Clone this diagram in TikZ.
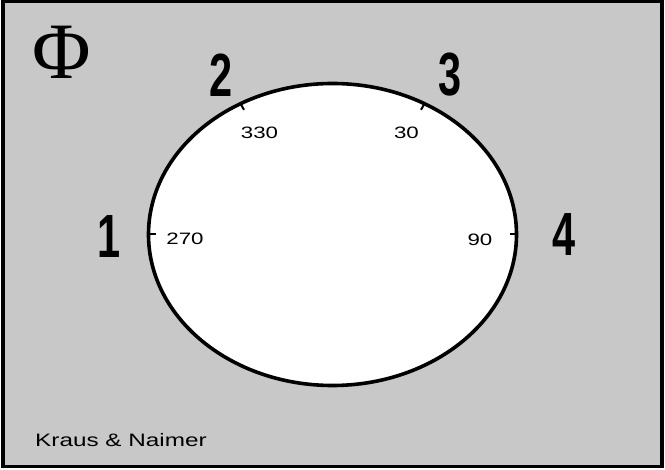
\documentclass[tikz,border=0pt]{standalone}
\usepackage{fontspec}
\setmainfont{Liberation Sans}
\newfontfamily\phifont{Liberation Serif}
\definecolor{panelgray}{HTML}{C8C8C8}
\tikzset{
  bigdigit/.style={inner sep=0pt, font=\fontsize{61}{61}\selectfont\bfseries},
  anglabel/.style={inner sep=0pt, font=\fontsize{16.5}{16.5}\selectfont},
  ticktick/.style={line width=2pt},
}
\newcommand{\condensed}[1]{\scalebox{0.68}[1]{#1}}
\newcommand{\extended}[1]{\scalebox{1.35}[1]{#1}}
\begin{document}
\begin{tikzpicture}[x=1pt,y=-1pt]
\useasboundingbox (0,0) rectangle (665,470);
\draw[line width=3.5pt, fill=panelgray] (3,1.75) rectangle (662,466.5);
\draw[line width=3.6pt, fill=white] (332.5,234.5) ellipse [x radius=184, y radius=151];
% ticks
\foreach \n/\a in {a/180, b/0, c/240, d/300}{
  \coordinate (\n o) at ({332.5+185*cos(\a)},{234.5+152*sin(\a)});
  \coordinate (\n i) at ({332.5+177*cos(\a)},{234.5+144*sin(\a)});
}
\draw[ticktick] (ao) -- (ai);
\draw[ticktick] (bo) -- (bi);
\draw[ticktick] (co) -- (ci);
\draw[ticktick] (do) -- (di);
% big digits
\node[bigdigit] (n1) at (109,236.5) {\condensed{1}};
\node[bigdigit] (n2) at (221.5,75) {\condensed{2}};
\node[bigdigit] (n3) at (450,75) {\condensed{3}};
\node[bigdigit] (n4) at (564.5,235) {\condensed{4}};
% angle labels
\node[anglabel] (l330) at (259.5,133) {\extended{330}};
\node[anglabel] (l30) at (406.5,133) {\extended{30}};
\node[anglabel] (l270) at (185,239) {\extended{270}};
\node[anglabel] (l90) at (480,239.5) {\extended{90}};
% phi
\node[inner sep=0pt, font=\fontsize{80}{80}\selectfont\phifont] (phi) at (62,52) {Φ};
% maker
\node[inner sep=0pt, font=\fontsize{18}{18}\selectfont] (maker) at (121,440) {\extended{Kraus \& Naimer}};
\end{tikzpicture}
\end{document}
